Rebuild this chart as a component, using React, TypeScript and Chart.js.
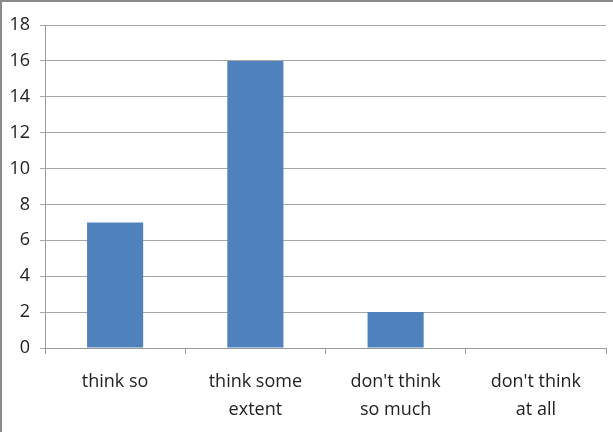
import React, { useEffect, useRef } from "react";
import { Chart, registerables } from "chart.js";

Chart.register(...registerables);

const categories: string[][] = [
  ["think so"],
  ["think some", "extent"],
  ["don't think", "so much"],
  ["don't think", "at all"],
];
const values: number[] = [7, 16, 2, 0];
const yMin = 0;
const yMax = 18;
const yStep = 2;

const borderPlugin = {
  id: "frameBorder",
  afterDraw(chart: any) {
    const ctx = chart.ctx;
    ctx.save();
    ctx.fillStyle = "#8a8a8a";
    ctx.fillRect(0, 0, 2, chart.height);
    ctx.fillRect(0, 0, chart.width, 2);
    ctx.restore();
  },
};

export default function App() {
  const ref = useRef<HTMLCanvasElement | null>(null);
  useEffect(() => {
    if (!ref.current) return;
    const font = "'Open Sans', sans-serif";
    const chart = new Chart(ref.current, {
      type: "bar",
      data: {
        labels: categories,
        datasets: [
          {
            data: values,
            backgroundColor: "#4F81BD",
            categoryPercentage: 1,
            barPercentage: 0.4,
          },
        ],
      },
      options: {
        animation: false,
        responsive: false,
        maintainAspectRatio: false,
        layout: { padding: { top: 25, right: 7, bottom: 0, left: 0 } },
        plugins: { legend: { display: false }, tooltip: { enabled: false } },
        scales: {
          x: {
            grid: {
              offset: true,
              drawOnChartArea: false,
              drawTicks: true,
              tickLength: 6,
              color: "#9a9a9a",
            },
            border: { color: "#9a9a9a" },
            ticks: {
              color: "#222",
              padding: 14,
              maxRotation: 0,
              autoSkip: false,
              font: { family: font, size: 18, lineHeight: 1.55 },
            },
            afterFit(scale: any) {
              scale.height = 84;
            },
          },
          y: {
            min: yMin,
            max: yMax,
            grid: { color: "#a6a6a6", tickLength: 5, drawTicks: true },
            border: { color: "#9a9a9a" },
            ticks: {
              stepSize: yStep,
              color: "#222",
              padding: 10,
              font: { family: font, size: 18 },
            },
            afterFit(scale: any) {
              scale.width = 45;
            },
          },
        },
      },
      plugins: [borderPlugin],
    });
    return () => chart.destroy();
  }, []);
  return (
    <div style={{ position: "absolute", left: 0, top: 0, width: 613, height: 432, background: "#fff" }}>
      <canvas ref={ref} width={613} height={432} style={{ width: 613, height: 432, display: "block" }} />
    </div>
  );
}
